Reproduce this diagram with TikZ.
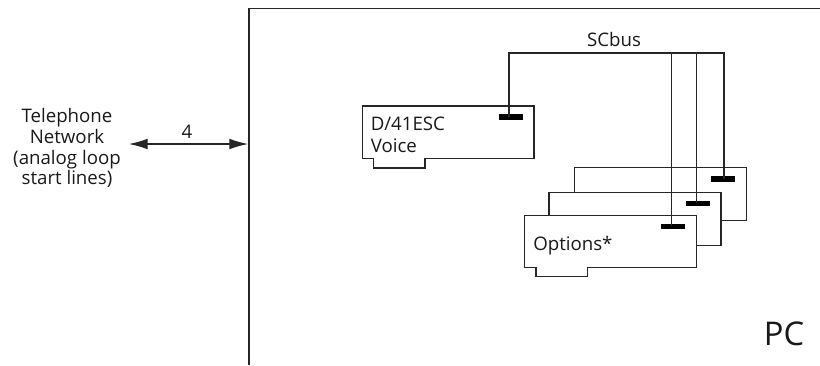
\documentclass[tikz,border=0pt]{standalone}
\usepackage{fontspec}
\setmainfont{Open Sans}
\usetikzlibrary{arrows.meta}
\tikzset{
  wire/.style={draw=black!85,line width=1pt},
  card/.style={draw=black!85,fill=white,line width=1pt,line join=miter},
  busbar/.style={draw=none,fill=black,minimum width=18pt,minimum height=3.9pt,inner sep=0pt,outer sep=0pt},
  lbl/.style={font=\fontsize{14}{15.6}\selectfont,text=black!90,inner sep=0pt,align=center},
  big/.style={font=\fontsize{24.5}{28}\selectfont,text=black!90,inner sep=0pt}
}
\begin{document}
\begin{tikzpicture}[x=0.75pt,y=-0.75pt]
\useasboundingbox (0,0) rectangle (820,365);
% PC box
\draw[wire] (249,365) -- (249,8.5) -- (820,8.5);
\node[big,anchor=base] (pc) at (784,345) {PC};
% Telephone
\node[lbl] (tel) at (67,148) {Telephone\\Network\\(analog loop\\start lines)};
\coordinate (netL) at (129,144);
\coordinate (netR) at (248,144);
\draw[wire,line width=0.8pt,{Latex[length=14pt,width=8pt]}-{Latex[length=14pt,width=8pt]}] (netL) -- (netR);
\node[lbl,anchor=base] (four) at (187,138) {4};
% D/41 card
\draw[card] (362.5,106) -- (534,106) -- (534,158.7) -- (425,158.7) -- (425,168) -- (373.5,168) -- (373.5,158.7) -- (362.5,158.7) -- cycle;
\node[lbl,align=left,anchor=base west] (d41) at (370.5,152) {D/41ESC\\[0.7pt]Voice};
\node[busbar] (b0) at (511,117) {};
% Option cards
\draw[card] (574.7,167.7) -- (746.7,167.7) -- (746.7,220.7) -- (574.7,220.7) -- cycle;
\draw[card] (549,192.3) -- (721,192.3) -- (721,245.3) -- (549,245.3) -- cycle;
\draw[card] (524.7,215.3) -- (696.7,215.3) -- (696.7,267.3) -- (587.3,267.3) -- (587.3,276.7) -- (536,276.7) -- (536,267.3) -- (524.7,267.3) -- cycle;
\node[lbl,anchor=base west] (opt) at (533,250.7) {Options*};
\node[busbar] (b1) at (673,226.3) {};
\node[busbar] (b2) at (697.5,203.3) {};
\node[busbar] (b3) at (723,179) {};
% Bus
\node[lbl,anchor=base] (scbus) at (614,46.5) {SCbus};
\coordinate (t0) at (509,53);
\coordinate (t1) at (671.7,53);
\coordinate (t2) at (696.3,53);
\coordinate (t3) at (724,53);
\draw[wire] (b0.center -| t0) -- (t0) -- (t3) -- (b3.center -| t3);
\draw[wire] (t1) -- (b1.center -| t1);
\draw[wire] (t2) -- (b2.center -| t2);
\end{tikzpicture}
\end{document}
